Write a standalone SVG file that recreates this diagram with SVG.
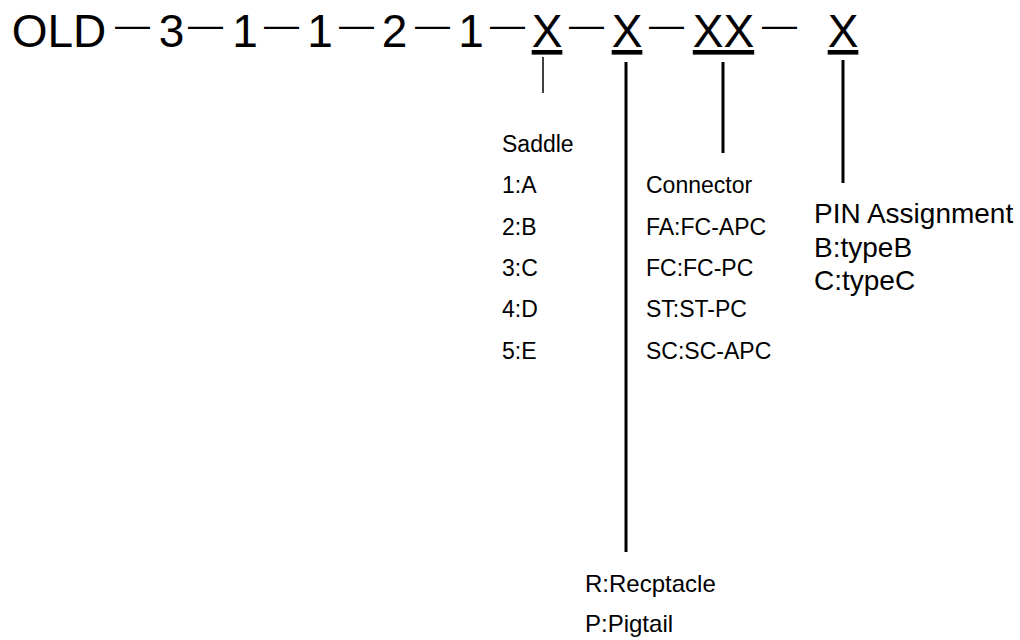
<svg xmlns="http://www.w3.org/2000/svg" width="1020" height="640" viewBox="0 0 1020 640">
<style>
.t{font-family:"Liberation Sans",Arial,sans-serif;fill:#000}
.big{font-size:46px;text-anchor:middle}
.dash{font-size:35px}
.u{text-decoration:underline}
.lst{font-size:23px}
.lst2{font-size:24px}
.pin{font-size:28px}
.ln{stroke:#000;stroke-width:3;fill:none}
.thin{stroke-width:1.5}
</style>
<rect width="1020" height="640" fill="#fff"/>
<g id="code">
<text class="t big" x="59" y="47">OLD</text>
<text class="t dash" x="115" y="37">—</text>
<text class="t big" x="171.5" y="47">3</text>
<text class="t dash" x="188" y="37">—</text>
<text class="t big" x="245" y="47">1</text>
<text class="t dash" x="264" y="37">—</text>
<text class="t big" x="320" y="47">1</text>
<text class="t dash" x="339" y="37">—</text>
<text class="t big" x="394.5" y="47">2</text>
<text class="t dash" x="415" y="37">—</text>
<text class="t big" x="471" y="47">1</text>
<text class="t dash" x="490" y="37">—</text>
<text class="t big u" x="547" y="47">X</text>
<text class="t dash" x="569" y="37">—</text>
<text class="t big u" x="627" y="47">X</text>
<text class="t dash" x="649" y="37">—</text>
<text class="t big u" x="723.5" y="47">XX</text>
<text class="t dash" x="762" y="37">—</text>
<text class="t big u" x="843" y="47">X</text>
</g>
<g id="connectors">
<line class="ln thin" x1="543" y1="57" x2="543" y2="93"/>
<line class="ln" x1="626" y1="62" x2="626" y2="552"/>
<line class="ln" x1="723" y1="62" x2="723" y2="153"/>
<line class="ln" x1="843" y1="60" x2="843" y2="183"/>
</g>
<g id="saddle">
<text class="t lst" x="502" y="152">Saddle</text>
<text class="t lst" x="502" y="193">1:A</text>
<text class="t lst" x="502" y="235">2:B</text>
<text class="t lst" x="502" y="276">3:C</text>
<text class="t lst" x="502" y="317">4:D</text>
<text class="t lst" x="502" y="359">5:E</text>
</g>
<g id="connector">
<text class="t lst" x="646" y="193">Connector</text>
<text class="t lst" x="646" y="235">FA:FC-APC</text>
<text class="t lst" x="646" y="276">FC:FC-PC</text>
<text class="t lst" x="646" y="317">ST:ST-PC</text>
<text class="t lst" x="646" y="359">SC:SC-APC</text>
</g>
<g id="pin">
<text class="t pin" x="814" y="223">PIN Assignment</text>
<text class="t pin" x="814" y="257">B:typeB</text>
<text class="t pin" x="814" y="290">C:typeC</text>
</g>
<g id="type">
<text class="t lst2" x="585" y="592">R:Recptacle</text>
<text class="t lst2" x="585" y="632">P:Pigtail</text>
</g>
</svg>
